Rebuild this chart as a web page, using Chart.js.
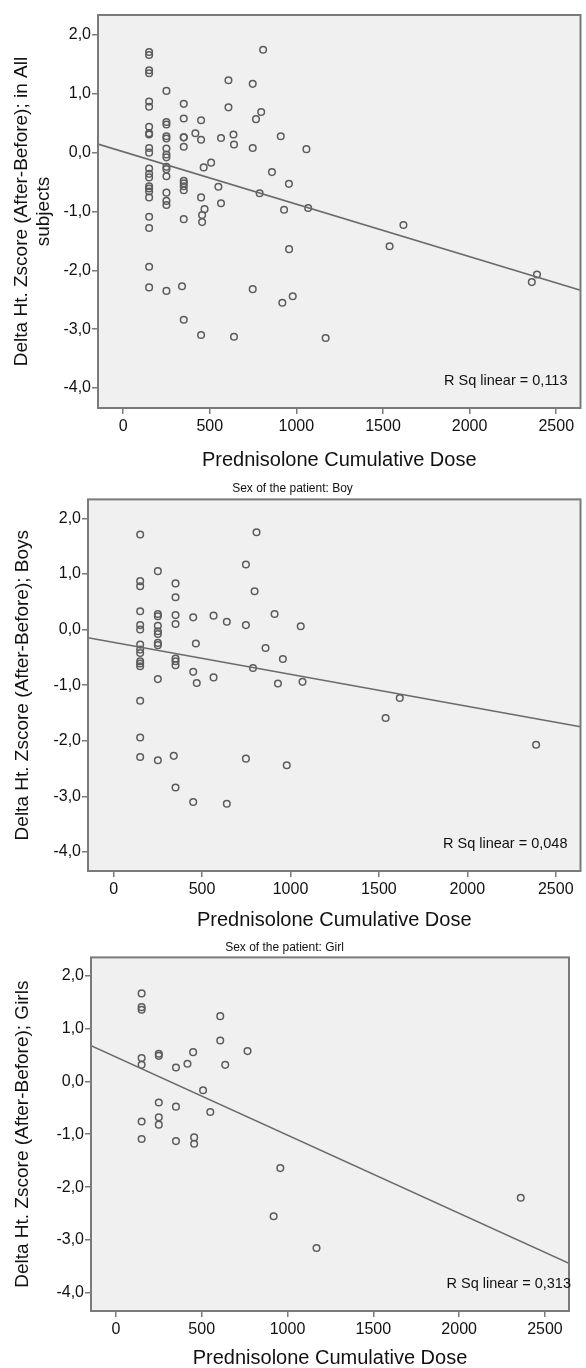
<!DOCTYPE html>
<html>
<head>
<meta charset="utf-8">
<script src="https://cdn.jsdelivr.net/npm/chart.js@4.4.0/dist/chart.umd.min.js"></script>
<style>
  body { margin: 0; background: #fff; }
  #wrap { position: relative; width: 586px; height: 1368px; overflow: hidden; }
  canvas { position: absolute; left: 0; }
</style>
</head>
<body>
<div id="wrap">
  <canvas id="chart-all" width="586" height="472" style="top:0px"></canvas>
  <canvas id="chart-boys" width="586" height="462" style="top:470px"></canvas>
  <canvas id="chart-girls" width="586" height="440" style="top:930px"></canvas>
</div>
<script>
// Eje X: dosis acumulada de prednisolona
const xTicks = [0, 500, 1000, 1500, 2000, 2500];
// Eje Y: delta de la puntuación Z de talla
const yTicks = [-4, -3, -2, -1, 0, 1, 2];

// [dosis, delta Z]
const boys = [
  [150, 1.71], [150, 0.87], [150, 0.78], [150, 0.33], [150, 0.08], [150, 0.0],
  [150, -0.27], [150, -0.36], [150, -0.42], [150, -0.57], [150, -0.61], [150, -0.66],
  [150, -1.28], [150, -1.94], [150, -2.29],
  [250, 1.05], [250, 0.28], [250, 0.24], [250, 0.07], [250, -0.03], [250, -0.08],
  [250, -0.24], [250, -0.28], [250, -0.89], [250, -2.35],
  [350, 0.83], [350, 0.58], [350, 0.26], [350, 0.10], [350, -0.52], [350, -0.57],
  [350, -0.64], [350, -2.84], [340, -2.27],
  [450, 0.22], [450, -0.76], [450, -3.10], [465, -0.25], [470, -0.96],
  [565, 0.25], [565, -0.86], [640, 0.14], [640, -3.13],
  [748, 1.17], [748, 0.08], [748, -2.32], [788, -0.69], [797, 0.69], [808, 1.75],
  [859, -0.33], [910, 0.28], [929, -0.97], [957, -0.53], [979, -2.44],
  [1058, 0.06], [1068, -0.94], [1538, -1.59], [1618, -1.23], [2389, -2.07]
];

const girls = [
  [150, 1.66], [150, 1.40], [150, 1.35], [150, 0.44], [150, 0.31], [150, -0.76], [150, -1.09],
  [250, 0.52], [250, 0.48], [250, -0.40], [250, -0.68], [250, -0.82],
  [350, 0.26], [350, -0.48], [350, -1.13],
  [417, 0.33], [450, 0.55], [456, -1.06], [456, -1.18], [508, -0.17], [550, -0.58],
  [608, 1.23], [608, 0.77], [637, 0.31], [767, 0.57],
  [919, -2.55], [958, -1.64], [1169, -3.15], [2359, -2.20]
];

// Todos los sujetos = niños + niñas
const allSubjects = boys.concat(girls);

// Recta de ajuste lineal: [intercepto, pendiente]
const fitAll = [0.016, -0.000892];
const fitBoys = [-0.23, -0.000575];
const fitGirls = [0.458, -0.001476];

const rSqAll = "0,113";
const rSqBoys = "0,048";
const rSqGirls = "0,313";

const X_MIN = -145, X_MAX = 2640;
const Y_MIN = -4.34, Y_MAX = 2.34;

const FONT = "'Liberation Sans', Arial, sans-serif";
const TEXT = '#111';
const FRAME = '#7a7a7a';

// Fondo gris del área de trazado, marco y texto de R²
const plotFrame = {
  id: 'plotFrame',
  beforeDraw(chart) {
    const a = chart.chartArea;
    const ctx = chart.ctx;
    ctx.save();
    ctx.fillStyle = '#f0f0f0';
    ctx.fillRect(a.left, a.top, a.right - a.left, a.bottom - a.top);
    ctx.restore();
  },
  afterDraw(chart, args, opts) {
    const a = chart.chartArea;
    const ctx = chart.ctx;
    ctx.save();
    ctx.strokeStyle = FRAME;
    ctx.lineWidth = 2;
    ctx.strokeRect(a.left, a.top, a.right - a.left, a.bottom - a.top);
    ctx.fillStyle = TEXT;
    ctx.font = '14.5px ' + FONT;
    ctx.textAlign = 'right';
    ctx.textBaseline = 'middle';
    ctx.fillText('R Sq linear = ' + opts.rsq, a.right - opts.rsqInset, a.bottom - 27);
    ctx.restore();
  }
};

function makeChart(id, cfg) {
  const line = [X_MIN, X_MAX].map(x => ({ x: x, y: cfg.fit[0] + cfg.fit[1] * x }));
  return new Chart(document.getElementById(id), {
    type: 'scatter',
    data: {
      datasets: [
        {
          type: 'line',
          data: line,
          borderColor: '#6a6a6a',
          borderWidth: 1.6,
          pointRadius: 0,
          fill: false
        },
        {
          data: cfg.points.map(p => ({ x: p[0], y: p[1] })),
          pointStyle: 'circle',
          pointRadius: 3.3,
          borderWidth: 1.5,
          borderColor: '#5c5c5c',
          backgroundColor: 'rgba(0,0,0,0)'
        }
      ]
    },
    options: {
      responsive: false,
      animation: false,
      devicePixelRatio: 1,
      layout: { padding: cfg.padding },
      plugins: {
        legend: { display: false },
        tooltip: { enabled: false },
        title: {
          display: !!cfg.subtitle,
          text: cfg.subtitle || '',
          color: TEXT,
          font: { family: FONT, size: 12, weight: 'normal' },
          padding: cfg.subtitlePad || 0
        },
        plotFrame: { rsq: cfg.rsq, rsqInset: cfg.rsqInset }
      },
      scales: {
        x: {
          type: 'linear',
          min: X_MIN,
          max: X_MAX,
          afterBuildTicks: s => { s.ticks = xTicks.map(v => ({ value: v })); },
          afterFit: s => { s.height = cfg.xHeight; },
          ticks: {
            color: TEXT,
            font: { family: FONT, size: 16 },
            padding: 3,
            callback: v => String(v)
          },
          grid: { drawOnChartArea: false, drawTicks: true, tickLength: 6, color: FRAME, lineWidth: 1.5 },
          border: { display: false },
          title: {
            display: true,
            text: 'Prednisolone Cumulative Dose',
            color: TEXT,
            font: { family: FONT, size: 20 },
            padding: { top: 0, bottom: 0 }
          }
        },
        y: {
          type: 'linear',
          min: Y_MIN,
          max: Y_MAX,
          afterBuildTicks: s => { s.ticks = yTicks.map(v => ({ value: v })); },
          afterFit: s => { s.width = cfg.yWidth; },
          ticks: {
            color: TEXT,
            font: { family: FONT, size: 16 },
            padding: 1,
            callback: v => v.toFixed(1).replace('.', ',')
          },
          grid: { drawOnChartArea: false, drawTicks: true, tickLength: 6, color: FRAME, lineWidth: 1.5 },
          border: { display: false },
          title: {
            display: true,
            text: cfg.yTitle,
            color: TEXT,
            font: { family: FONT, size: 19 },
            padding: { top: cfg.yTitlePad, bottom: 0 }
          }
        }
      }
    },
    plugins: [plotFrame]
  });
}

makeChart('chart-all', {
  points: allSubjects,
  fit: fitAll,
  rsq: rSqAll,
  rsqInset: 13,
  yTitle: ['Delta Ht. Zscore (After-Before); in All', 'subjects'],
  yTitlePad: 10,
  padding: { top: 15, right: 2, left: 0, bottom: 0 },
  yWidth: 98,
  xHeight: 64
});

makeChart('chart-boys', {
  points: boys,
  fit: fitBoys,
  rsq: rSqBoys,
  rsqInset: 13,
  subtitle: 'Sex of the patient: Boy',
  subtitlePad: { top: 11, bottom: 4 },
  yTitle: 'Delta Ht. Zscore (After-Before); Boys',
  yTitlePad: 11,
  padding: { top: 0, right: 1, left: 0, bottom: 0 },
  yWidth: 88,
  xHeight: 61
});

makeChart('chart-girls', {
  points: girls,
  fit: fitGirls,
  rsq: rSqGirls,
  rsqInset: -2,
  subtitle: 'Sex of the patient: Girl',
  subtitlePad: { top: 10, bottom: 3 },
  yTitle: 'Delta Ht. Zscore (After-Before); Girls',
  yTitlePad: 11,
  padding: { top: 0, right: 17, left: 0, bottom: 0 },
  yWidth: 91,
  xHeight: 59
});
</script>
</body>
</html>
